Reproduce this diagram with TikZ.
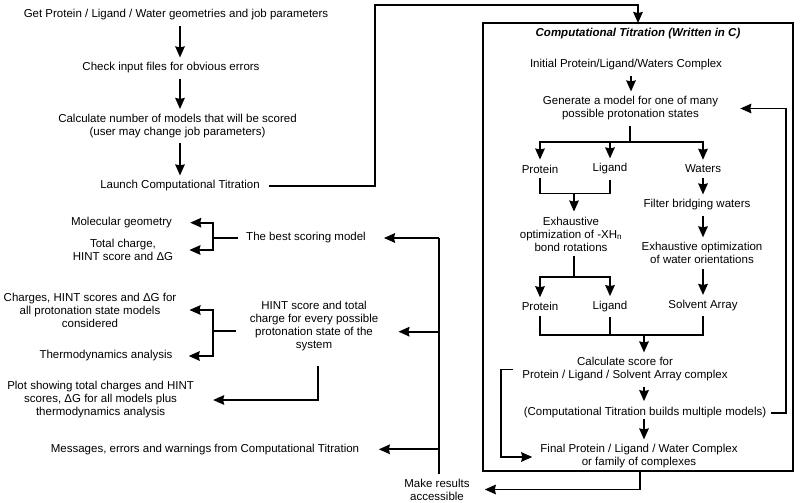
\documentclass[tikz,border=0pt]{standalone}
\usepackage{fontspec}
\setmainfont{Liberation Sans}
\usetikzlibrary{arrows.meta}
\begin{document}
\begin{tikzpicture}[x=1pt,y=-1pt,
  every node/.style={font=\fontsize{11.5}{13}\selectfont, inner xsep=0pt, inner ysep=5pt, align=center},
  ln/.style={line width=1.8pt},
  arr/.style={ln, -{Stealth[length=11pt,width=9.5pt,inset=1pt]}},
]
\useasboundingbox (0,0) rectangle (800,503);
% left column
\node (get) at (176,15) {Get Protein / Ligand / Water geometries and job parameters};
\node (check) at (171,68) {Check input files for obvious errors};
\node (calc) at (177.5,126) {Calculate number of models that will be scored\\(user may change job parameters)};
\node (launch) at (180,186) {Launch Computational Titration};
% box
\node[draw, line width=1.8pt, minimum width=310pt, minimum height=448pt, inner sep=0pt, outer sep=0pt] (box) at (638,247) {};
\node[font=\fontsize{11.5}{13}\selectfont\bfseries\itshape] (title) at (638,33.5) {Computational Titration (Written in C)};
\node (init) at (626,65) {Initial Protein/Ligand/Waters Complex};
\node (gen) at (630.5,108.5) {Generate a model for one of many\\possible protonation states};
\node (prot1) at (540,169) {Protein};
\node (lig1) at (610,169) {Ligand};
\node (wat) at (703,169) {Waters};
\node (filt) at (697,205) {Filter bridging waters};
\node (exh1) at (571,234) {Exhaustive\\optimization of -XH\textsubscript{n}\\bond rotations};
\node (exh2) at (702,253.3) {Exhaustive optimization\\of water orientations};
\node (prot2) at (540,306.7) {Protein};
\node (lig2) at (610,306.7) {Ligand};
\node (solv) at (703,305.5) {Solvent Array};
\node (score) at (625,369.5) {Calculate score for\\Protein / Ligand / Solvent Array complex};
\node[inner ysep=1pt] (builds) at (645,412.7) {(Computational Titration builds multiple models)};
\node (final) at (639,456.5) {Final Protein / Ligand / Water Complex\\or family of complexes};
\node (make) at (437,489.5) {Make results\\accessible};
% results
\node (best) at (306,237.5) {The best scoring model};
\node (molgeo) at (121.5,222.7) {Molecular geometry};
\node (totch) at (123,250) {Total charge,\\HINT score and ΔG};
\node (hint) at (314,326) {HINT score and total\\charge for every possible\\protonation state of the\\system};
\node (charges) at (90,310) {Charges, HINT scores and ΔG for\\all protonation state models\\considered};
\node (thermo) at (106,356) {Thermodynamics analysis};
\node (plot) at (100.6,400) {Plot showing total charges and HINT\\scores, ΔG for all models plus\\thermodynamics analysis};
\node (msgs) at (205,449.3) {Messages, errors and warnings from Computational Titration};
% coordinates
\coordinate (ax) at (180,0);
\coordinate (t1) at (375,5);
\coordinate (t2) at (638,5);
\coordinate (ix) at (631,0);
\coordinate (s1) at (630,142);
\coordinate (j3) at (574,193.5);
\coordinate (j4) at (574,277);
\coordinate (j5) at (644,335);
\coordinate (l1) at (786,0);
\coordinate (k1) at (501,457);
\coordinate (bx) at (640,490.7);
\coordinate (bus) at (439,238);
\coordinate (b2) at (439,331.7);
\coordinate (j1) at (213,237.7);
\coordinate (j2) at (213,330.7);
\coordinate (hx) at (318,400.7);
% connectors left column
\draw[arr] (get.south -| ax) -- (check.north -| ax);
\draw[arr] (check.south -| ax) -- (calc.north -| ax);
\draw[arr] (calc.south -| ax) -- (launch.north -| ax);
\draw[arr, shorten <=9pt] (launch.east) -| (t1) -- (t2) -- (box.north -| t2);
% inside box
\draw[arr] (init.south -| ix) -- (gen.north -| ix);
\draw[ln] (gen.south -| s1) -- (s1);
\draw[arr] (s1) -| (prot1);
\draw[arr] (s1) -| (lig1);
\draw[arr] (s1) -| (wat);
\draw[ln] (prot1) |- (j3);
\draw[ln] (lig1) |- (j3);
\draw[arr] (j3) -- (exh1.north -| j3);
\draw[arr] (wat) -- (filt.north -| wat);
\draw[arr] (filt.south -| wat) -- (exh2.north -| wat);
\draw[ln] (exh1.south -| j3) -- (j4);
\draw[arr] (j4) -| (prot2);
\draw[arr] (j4) -| (lig2);
\draw[arr] (exh2.south -| wat) -- (solv);
\draw[ln] (prot2) |- (j5);
\draw[ln] (lig2) |- (j5);
\draw[ln] (solv) |- (j5);
\draw[arr] (j5) -- (score.north -| j5);
\draw[arr, shorten >=5pt] (score.south -| j5) -- (builds.north -| j5);
\draw[arr] (builds.south -| j5) -- (final.north -| j5);
\draw[arr, shorten <=5pt, shorten >=22pt] (builds.east) -| (l1 |- gen.east) -- (gen.east);
\draw[arr, shorten <=9pt, shorten >=8pt] (score.west) -| (k1) -- (final.west |- k1);
\draw[arr, shorten >=15pt] (box.south -| bx) |- (make.east);
% results side
\draw[ln] (make.north -| bus) -- (bus);
\draw[arr, shorten >=18pt] (bus) -- (best.east |- bus);
\draw[arr, shorten >=20pt] (b2) -- (hint.east |- b2);
\draw[arr, shorten >=19.5pt] (msgs.east -| bus) -- (msgs.east);
\draw[ln, shorten <=8pt] (best.west |- j1) -- (j1);
\draw[arr, shorten >=18pt] (j1) |- (molgeo.east);
\draw[arr, shorten >=16pt] (j1) |- (totch.east);
\draw[ln, shorten <=14pt] (hint.west |- j2) -- (j2);
\draw[arr, shorten >=13pt] (j2) |- (charges.east);
\draw[arr, shorten >=16pt] (j2) |- (thermo.east);
\draw[arr, shorten <=10pt, shorten >=19pt] (hint.south -| hx) |- (plot.east);
\end{tikzpicture}
\end{document}
